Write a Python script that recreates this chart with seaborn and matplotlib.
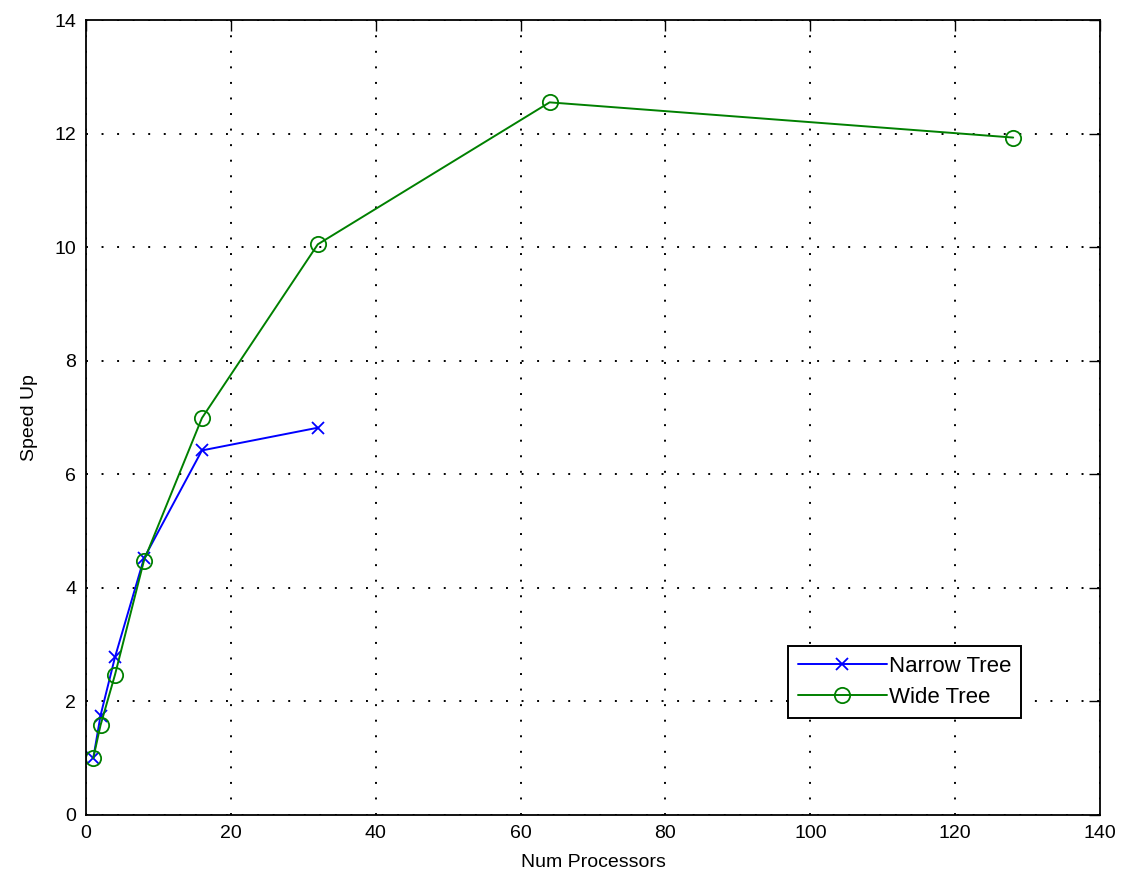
import matplotlib
matplotlib.use("Agg")
import matplotlib.pyplot as plt
import seaborn as sns
import pandas as pd

sns.set_style("white")
plt.rcParams['font.family'] = ['Liberation Sans', 'DejaVu Sans']
plt.rcParams['text.color'] = 'black'
plt.rcParams['axes.labelcolor'] = 'black'

narrow_procs = [1, 2, 4, 8, 16, 32]
narrow_speedup = [1.0, 1.75, 2.78, 4.52, 6.42, 6.82]
wide_procs = [1, 2, 4, 8, 16, 32, 64, 128]
wide_speedup = [1.0, 1.58, 2.47, 4.48, 6.99, 10.05, 12.55, 11.93]

x_ticks = [0, 20, 40, 60, 80, 100, 120, 140]
y_ticks = [0, 2, 4, 6, 8, 10, 12, 14]

narrow_df = pd.DataFrame({"procs": narrow_procs, "speedup": narrow_speedup})
wide_df = pd.DataFrame({"procs": wide_procs, "speedup": wide_speedup})

fig = plt.figure(figsize=(11.26, 8.82), dpi=100)
ax = fig.add_axes([0.0764, 0.076, 0.9006, 0.9013])

sns.lineplot(data=narrow_df, x="procs", y="speedup", ax=ax, color="#0000ff",
             marker="x", markersize=9, markeredgecolor="#0000ff",
             markeredgewidth=1.3, linewidth=1.4, label="Narrow Tree")
sns.lineplot(data=wide_df, x="procs", y="speedup", ax=ax, color="#008000",
             marker="o", markersize=11, markerfacecolor="none",
             markeredgecolor="#008000", markeredgewidth=1.3, linewidth=1.4,
             label="Wide Tree")

ax.set_xlim(0, 140)
ax.set_ylim(0, 14)
ax.set_xticks(x_ticks)
ax.set_yticks(y_ticks)
ax.tick_params(direction="in", length=8, width=1, top=True, right=True,
               labelsize=14, colors="black", pad=7)
ax.grid(True, linestyle=(0, (1, 7)), color="black", linewidth=1.4)
for s in ax.spines.values():
    s.set_color("black")
    s.set_linewidth(1.3)

ax.set_xlabel("Num Processors", fontsize=14, labelpad=9)
ax.set_ylabel("Speed Up", fontsize=14, labelpad=12)

leg = ax.legend(loc="lower left", bbox_to_anchor=(0.692, 0.122), fontsize=16,
                frameon=True, fancybox=False, edgecolor="black",
                borderpad=0.45, handlelength=4.0, handletextpad=0.1,
                labelspacing=0.45, borderaxespad=0)
leg.get_frame().set_linewidth(1.4)
leg.get_frame().set_alpha(1)

fig.savefig("out.png", dpi=100)
